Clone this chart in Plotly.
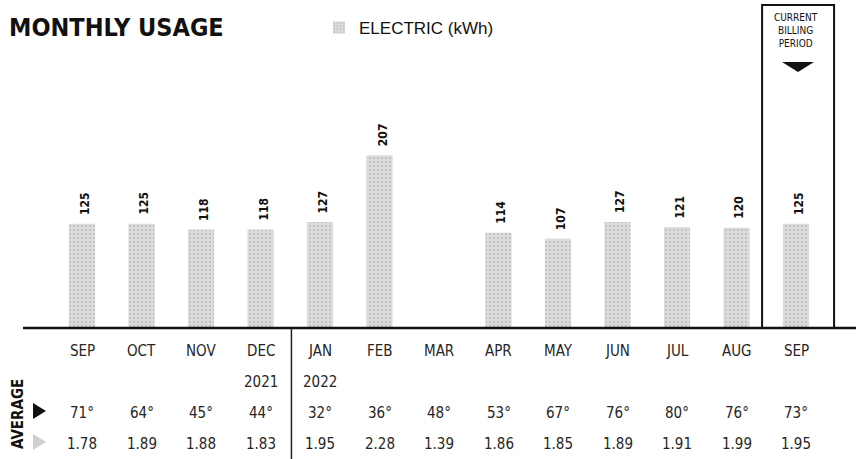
import plotly.graph_objects as go

# ---- data ----
months = ["SEP", "OCT", "NOV", "DEC", "JAN", "FEB", "MAR", "APR", "MAY", "JUN", "JUL", "AUG", "SEP"]
years = ["", "", "", "2021", "2022", "", "", "", "", "", "", "", ""]
kwh = [125, 125, 118, 118, 127, 207, None, 114, 107, 127, 121, 120, 125]
avg_temp = ["71°", "64°", "45°", "44°", "32°", "36°", "48°", "53°", "67°", "76°", "80°", "76°", "73°"]
avg_daily = ["1.78", "1.89", "1.88", "1.83", "1.95", "2.28", "1.39", "1.86", "1.85", "1.89", "1.91", "1.99", "1.95"]
title_text = "MONTHLY USAGE"
series_name = "ELECTRIC (kWh)"
current_label = "CURRENT<br>BILLING<br>PERIOD"

W, H = 856, 459
BASE = 328  # pixel row of the baseline
B = H - BASE

def px_x(p):
    return p / W

def px_y(p):
    return (BASE - p) / BASE

idx = list(range(len(months)))
COND = "DejaVu Sans Condensed, Liberation Sans Narrow, sans-serif"
TXT = "#262626"

fig = go.Figure()
fig.add_trace(go.Bar(
    x=idx, y=kwh, name=series_name, width=0.44,
    marker=dict(color="#d6d6d6", line=dict(width=0),
                pattern=dict(shape=".", fgcolor="#a6a6a6", bgcolor="#dcdcdc", size=4, solidity=0.25)),
    cliponaxis=False, showlegend=True, hoverinfo="x+y",
))

annotations = []
# value labels above bars
for i, v in zip(idx, kwh):
    if v is None:
        continue
    annotations.append(dict(xref="x", yref="y", x=i + 0.05, y=v, text="<b>%d</b>" % v, textangle=-90,
                            showarrow=False, xanchor="center", yanchor="bottom", yshift=7,
                            font=dict(family=COND, size=12, color="#111111")))
# title
annotations.append(dict(xref="paper", yref="paper", x=px_x(7), y=px_y(28), xanchor="left", yanchor="middle",
                        text="<b>" + title_text + "</b>", showarrow=False,
                        font=dict(family=COND, size=25, color="#111111")))
# rows under the axis
for i in idx:
    annotations.append(dict(xref="x", yref="paper", x=i, y=px_y(351), text=months[i], showarrow=False,
                            xanchor="center", yanchor="middle", font=dict(family=COND, size=15, color=TXT)))
    if years[i]:
        annotations.append(dict(xref="x", yref="paper", x=i, y=px_y(382), text=years[i], showarrow=False,
                                xanchor="center", yanchor="middle", font=dict(family=COND, size=15, color=TXT)))
    annotations.append(dict(xref="x", yref="paper", x=i, y=px_y(413), text=avg_temp[i], showarrow=False,
                            xanchor="center", yanchor="middle", font=dict(family=COND, size=15, color=TXT)))
    annotations.append(dict(xref="x", yref="paper", x=i, y=px_y(444), text=avg_daily[i], showarrow=False,
                            xanchor="center", yanchor="middle", font=dict(family=COND, size=15, color=TXT)))
# AVERAGE label
annotations.append(dict(xref="paper", yref="paper", x=px_x(18), y=px_y(414), text="<b>AVERAGE</b>", textangle=-90,
                        showarrow=False, xanchor="center", yanchor="middle",
                        font=dict(family=COND, size=15, color="#111111")))
# current billing period text
annotations.append(dict(xref="x", yref="paper", x=12, y=px_y(31), text=current_label, showarrow=False,
                        xanchor="center", yanchor="middle",
                        font=dict(family=COND, size=10, color="#111111")))

shapes = []
# baseline
shapes.append(dict(type="line", xref="paper", yref="paper", x0=px_x(23), x1=1, y0=0, y1=0,
                   line=dict(color="#111111", width=2.5)))
# year separator
shapes.append(dict(type="line", xref="x", yref="paper", x0=3.52, x1=3.52, y0=0, y1=px_y(H),
                   line=dict(color="#222222", width=1.5)))
# current billing box
shapes.append(dict(type="rect", xref="x", yref="paper", x0=11.43, x1=12.64, y0=0, y1=px_y(5),
                   line=dict(color="#111111", width=2)))
# box arrow (down)
shapes.append(dict(type="path", xref="paper", yref="paper",
                   path=f"M {px_x(782)} {px_y(62)} L {px_x(814)} {px_y(62)} L {px_x(798)} {px_y(72)} Z",
                   fillcolor="#111111", line=dict(width=0)))
# row markers
shapes.append(dict(type="path", xref="paper", yref="paper",
                   path=f"M {px_x(33)} {px_y(403)} L {px_x(46)} {px_y(411)} L {px_x(33)} {px_y(419)} Z",
                   fillcolor="#111111", line=dict(width=0)))
shapes.append(dict(type="path", xref="paper", yref="paper",
                   path=f"M {px_x(33)} {px_y(434)} L {px_x(46)} {px_y(442)} L {px_x(33)} {px_y(450)} Z",
                   fillcolor="#cfcfcf", line=dict(width=0)))

fig.update_layout(
    width=W, height=H,
    margin=dict(l=0, r=0, t=0, b=B, pad=0),
    paper_bgcolor="white", plot_bgcolor="white",
    xaxis=dict(range=[-82 / 59.5, (W - 82) / 59.5], showgrid=False, zeroline=False, showticklabels=False,
               showline=False, ticks=""),
    yaxis=dict(range=[0, BASE / 0.835], showgrid=False, zeroline=False, showticklabels=False,
               showline=False, ticks=""),
    legend=dict(orientation="h", x=px_x(319), y=px_y(28), xanchor="left", yanchor="middle",
                font=dict(family="Liberation Sans, Arial, sans-serif", size=17, color="#111111"),
                bgcolor="rgba(0,0,0,0)", itemwidth=30),
    annotations=annotations, shapes=shapes,
    showlegend=True,
)

fig.write_html("out.html", config={"displayModeBar": False},
               post_script="document.body.style.margin='0px';")
